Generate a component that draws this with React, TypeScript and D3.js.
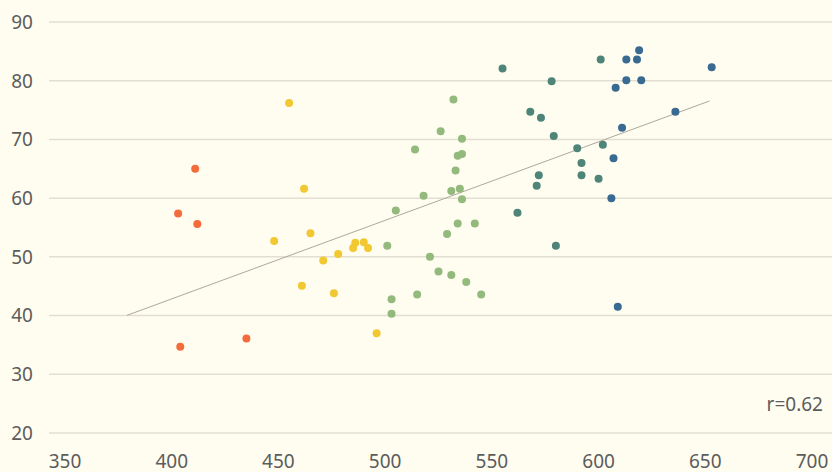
import { useEffect, useRef } from 'react';
import * as d3 from 'd3';

// scores: x = reading score, y = value
const xValues = [
  411, 403, 412, 404, 435,
  455, 462, 448, 465, 461, 471, 478, 476, 485, 486, 490, 492, 496,
  532, 526, 536, 514, 534, 536, 533, 518, 531, 535, 536, 505, 534, 542, 529, 501, 521, 525, 531, 538, 545, 515, 503, 503,
  555, 578, 568, 573, 579, 572, 571, 562, 580, 601, 590, 592, 592, 600,
  613, 618, 619, 653, 613, 620, 608, 636, 611, 602, 607, 606, 609,
];
const yValues = [
  65.0, 57.4, 55.6, 34.7, 36.1,
  76.2, 61.6, 52.7, 54.0, 45.1, 49.4, 50.5, 43.8, 51.5, 52.4, 52.5, 51.5, 37.0,
  76.8, 71.4, 70.1, 68.3, 67.2, 67.5, 64.7, 60.4, 61.2, 61.6, 59.8, 57.9, 55.7, 55.7, 53.9, 51.9, 50.0, 47.5, 46.9, 45.7, 43.6, 43.6, 42.8, 40.3,
  82.1, 79.9, 74.7, 73.7, 70.6, 63.9, 62.1, 57.5, 51.9, 83.6, 68.5, 66.0, 63.9, 63.3,
  83.6, 83.6, 85.2, 82.3, 80.1, 80.1, 78.8, 74.7, 72.0, 69.1, 66.8, 60.0, 41.5,
];
const xTicks = [350, 400, 450, 500, 550, 600, 650, 700];
const yTicks = [20, 30, 40, 50, 60, 70, 80, 90];
const colorBreaks = [440, 500, 550, 604];
const colors = ['#f26c3c', '#f2c832', '#93ba7c', '#4f8579', '#386a92'];
const trendRange = [379, 652];
const rLabel = 'r=0.62';

export default function App() {
  const svgRef = useRef<SVGSVGElement | null>(null);

  useEffect(() => {
    document.body.style.margin = '0';
    const width = 832;
    const height = 472;
    const svg = d3.select(svgRef.current);
    svg.selectAll('*').remove();
    svg.attr('width', width).attr('height', height);

    const font = "'Noto Sans', sans-serif";
    const textColor = '#5c5c5c';

    svg.append('rect').attr('width', width).attr('height', height).attr('fill', '#fffdf0');

    const x = d3.scaleLinear().domain([350, 700]).range([65, 812]);
    const y = d3.scaleLinear().domain([20, 90]).range([433, 22]);
    const color = d3.scaleThreshold<number, string>().domain(colorBreaks).range(colors);

    // gridlines
    svg.append('g')
      .selectAll('line')
      .data(yTicks)
      .enter()
      .append('line')
      .attr('x1', 49)
      .attr('x2', width)
      .attr('y1', d => y(d))
      .attr('y2', d => y(d))
      .attr('stroke', '#e2dfd2')
      .attr('stroke-width', 1.5);

    svg.append('g')
      .selectAll('text')
      .data(yTicks)
      .enter()
      .append('text')
      .attr('x', 33)
      .attr('y', d => y(d))
      .attr('dy', '0.36em')
      .attr('text-anchor', 'end')
      .attr('fill', textColor)
      .attr('font-family', font)
      .attr('font-size', 19)
      .text(d => d);

    svg.append('g')
      .selectAll('text')
      .data(xTicks)
      .enter()
      .append('text')
      .attr('x', d => x(d))
      .attr('y', 461)
      .attr('dy', '0.36em')
      .attr('text-anchor', 'middle')
      .attr('fill', textColor)
      .attr('font-family', font)
      .attr('font-size', 19)
      .text(d => d);

    // trend line (least squares)
    const points = xValues.map((v, i) => ({ x: v, y: yValues[i] }));
    const mx = d3.mean(points, d => d.x)!;
    const my = d3.mean(points, d => d.y)!;
    const sxy = d3.sum(points, d => (d.x - mx) * (d.y - my));
    const sxx = d3.sum(points, d => (d.x - mx) ** 2);
    const slope = sxy / sxx;
    const icpt = my - slope * mx;

    svg.append('line')
      .attr('x1', x(trendRange[0]))
      .attr('x2', x(trendRange[1]))
      .attr('y1', y(icpt + slope * trendRange[0]))
      .attr('y2', y(icpt + slope * trendRange[1]))
      .attr('stroke', '#aca89c')
      .attr('stroke-width', 1);

    svg.append('g')
      .selectAll('circle')
      .data(points)
      .enter()
      .append('circle')
      .attr('cx', d => x(d.x))
      .attr('cy', d => y(d.y))
      .attr('r', 4)
      .attr('fill', d => color(d.x));

    svg.append('text')
      .attr('x', 823)
      .attr('y', 404)
      .attr('dy', '0.36em')
      .attr('text-anchor', 'end')
      .attr('fill', textColor)
      .attr('font-family', font)
      .attr('font-size', 19)
      .text(rLabel);
  }, []);

  return <svg ref={svgRef} style={{ display: 'block' }} />;
}
